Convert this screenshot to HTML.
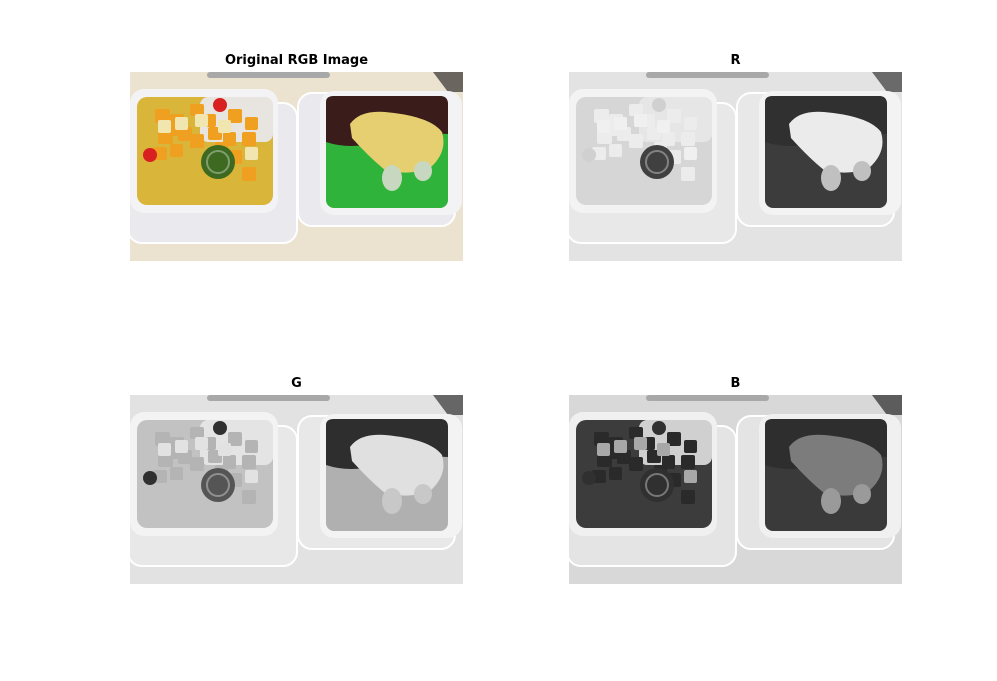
<!DOCTYPE html>
<html><head><meta charset="utf-8"><style>
body{margin:0;background:#fff;width:997px;height:681px;overflow:hidden}
svg{display:block}
.t{font-family:"DejaVu Sans","Liberation Sans",sans-serif;font-weight:bold;font-size:13px;fill:#000;text-anchor:middle}
</style></head><body>
<svg id="fig" width="997" height="681"></svg>
<script>
const panelTitles=["Original RGB Image","R","G","B"];
const panelX=[130,569,130,569];
const panelY=[72,72,395,395];
const palettes=[
 {bg:"#ebe3cf",corner:"#6b6560",bowl:"#f3f3f5",tray:"#e9e9ee",ice:"#e8e4e0",jelly:"#d9b53a",fruit:"#f0a020",pear:"#f2e6b0",cherry:"#d82020",lime:"#3d6a20",bean:"#3a1c1a",green:"#2fb33a",durian:"#e6cf70",sago:"#c8d8c0"},
 {bg:"#e3e3e3",corner:"#6a6a6a",bowl:"#f3f3f3",tray:"#e8e8e8",ice:"#e6e6e6",jelly:"#d6d6d6",fruit:"#ececec",pear:"#f0f0f0",cherry:"#d0d0d0",lime:"#404040",bean:"#303030",green:"#3c3c3c",durian:"#ebebeb",sago:"#c0c0c0"},
 {bg:"#e2e2e2",corner:"#666",bowl:"#f3f3f3",tray:"#e8e8e8",ice:"#e4e4e4",jelly:"#c2c2c2",fruit:"#b4b4b4",pear:"#e2e2e2",cherry:"#303030",lime:"#555",bean:"#2e2e2e",green:"#b0b0b0",durian:"#e0e0e0",sago:"#c8c8c8"},
 {bg:"#d8d8d8",corner:"#5c5c5c",bowl:"#f0f0f0",tray:"#e4e4e4",ice:"#d0d0d0",jelly:"#3c3c3c",fruit:"#2a2a2a",pear:"#a8a8a8",cherry:"#303030",lime:"#303030",bean:"#2e2e2e",green:"#3a3a3a",durian:"#7c7c7c",sago:"#9a9a9a"}
];
const NS="http://www.w3.org/2000/svg";
const fig=document.getElementById('fig');
function el(p,tag,a){const e=document.createElementNS(NS,tag);for(const k in a)e.setAttribute(k,a[k]);p.appendChild(e);return e;}
for(let i=0;i<4;i++){
 const c=palettes[i];
 const g=el(fig,'g',{transform:`translate(${panelX[i]},${panelY[i]})`});
 
 
 const cp=el(g,'clipPath',{id:'cp'+i});el(cp,'rect',{x:0,y:0,width:333,height:189});
 const s=el(g,'g',{'clip-path':`url(#cp${i})`});
 el(s,'rect',{x:0,y:0,width:333,height:189,fill:c.bg});
 el(s,'polygon',{points:"303,0 333,0 333,20 318,20",fill:c.corner});
 el(s,'rect',{x:77,y:0,width:123,height:6,rx:3,fill:"#a8a8a8"});
 el(s,'rect',{x:-2,y:31,width:169,height:140,rx:14,fill:c.tray,stroke:"#fff","stroke-width":2});
 el(s,'rect',{x:168,y:21,width:157,height:133,rx:14,fill:c.tray,stroke:"#fff","stroke-width":2});
 el(s,'rect',{x:0,y:17,width:148,height:124,rx:14,fill:c.bowl});
 el(s,'rect',{x:7,y:25,width:136,height:108,rx:10,fill:c.jelly});
 el(s,'rect',{x:70,y:25,width:73,height:45,rx:8,fill:c.ice});
 const fr=[[25,37,15,14],[40,42,14,13],[60,32,14,12],[72,42,14,13],[98,37,14,14],[115,45,13,13],[28,58,15,14],[48,55,14,14],[78,55,14,13],[93,60,13,14],[112,60,14,14],[23,75,14,13],[40,72,13,13],[98,78,14,14],[112,95,14,14],[35,50,14,14],[60,62,14,14],[85,70,13,13]];
 const pr=[[45,45],[65,42],[88,48],[115,75],[28,48]];
 fr.forEach(f=>el(s,'rect',{x:f[0],y:f[1],width:f[2],height:f[3],rx:2,fill:c.fruit}));
 pr.forEach(f=>el(s,'rect',{x:f[0],y:f[1],width:13,height:13,rx:2,fill:c.pear}));
 el(s,'circle',{cx:90,cy:33,r:7,fill:c.cherry});
 el(s,'circle',{cx:20,cy:83,r:7,fill:c.cherry});
 el(s,'circle',{cx:88,cy:90,r:17,fill:c.lime});
 el(s,'circle',{cx:88,cy:90,r:11,fill:"none",stroke:"#fff","stroke-opacity":0.35,"stroke-width":2});
 el(s,'rect',{x:190,y:19,width:142,height:124,rx:14,fill:c.bowl});
 el(s,'rect',{x:196,y:24,width:122,height:112,rx:8,fill:c.green});
 el(s,'path',{d:"M196,30 Q196,24 204,24 L310,24 Q318,24 318,32 L318,62 Q280,60 250,70 Q220,78 196,70 Z",fill:c.bean});
 el(s,'path',{d:"M220,52 Q230,38 255,40 Q300,44 312,60 Q318,80 300,96 Q280,104 255,98 Q240,86 222,66 Z",fill:c.durian});
 el(s,'ellipse',{cx:262,cy:106,rx:10,ry:13,fill:c.sago});
 el(s,'ellipse',{cx:293,cy:99,rx:9,ry:10,fill:c.sago});
 const t=el(fig,'text',{class:'t',x:panelX[i]+166.5,y:panelY[i]-8});
 t.textContent=panelTitles[i];
 
 
}
</script>
</body></html>
